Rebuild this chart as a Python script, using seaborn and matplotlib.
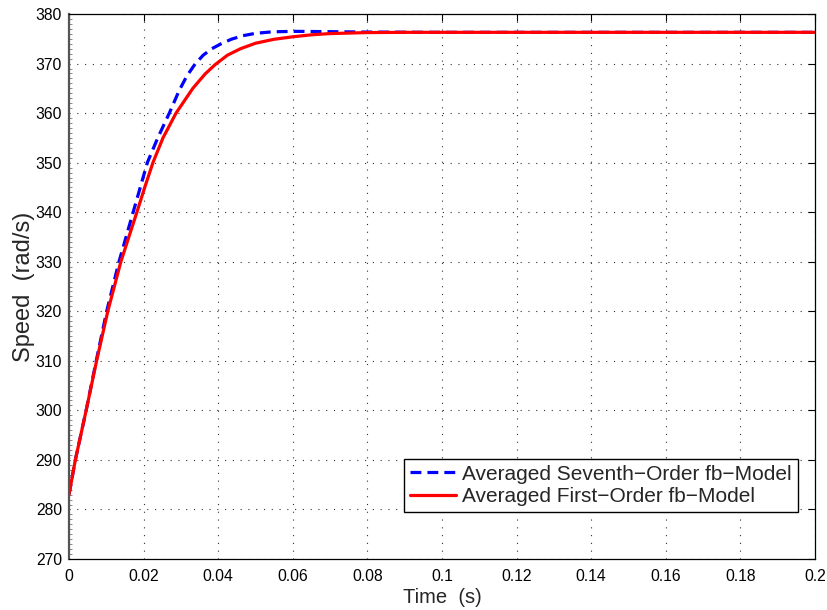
import numpy as np
import pandas as pd
import matplotlib
matplotlib.use("Agg")
import matplotlib.pyplot as plt
from matplotlib.ticker import MultipleLocator, FixedLocator
import seaborn as sns

# Speed response of the two averaged fb-models
time_7th = [0.0, 0.0017, 0.0046, 0.0073, 0.0101, 0.0134, 0.0172, 0.0210, 0.0238,
            0.0269, 0.0295, 0.0316, 0.0338, 0.0360, 0.0383, 0.0408, 0.0435, 0.0465,
            0.0500, 0.0545, 0.0600, 0.0680, 0.0800, 0.1000, 0.1500, 0.2000]
speed_7th = [283.0, 290.0, 300.0, 310.0, 320.0, 330.0, 340.0, 350.0, 355.0,
             360.0, 364.5, 367.5, 369.9, 371.7, 373.0, 374.0, 374.9, 375.6,
             376.1, 376.4, 376.5, 376.45, 376.35, 376.3, 376.3, 376.3]

time_1st = [0.0, 0.0017, 0.0046, 0.0074, 0.0104, 0.0139, 0.0182, 0.0203, 0.0225,
            0.0252, 0.0287, 0.0332, 0.0365, 0.0392, 0.0425, 0.0460, 0.0500, 0.0550,
            0.0600, 0.0650, 0.0700, 0.0800, 0.0900, 0.1000, 0.1500, 0.2000]
speed_1st = [283.0, 290.0, 300.0, 310.0, 320.0, 330.0, 340.0, 345.0, 350.0,
             355.0, 360.0, 365.0, 367.9, 369.8, 371.7, 373.0, 374.1, 374.9,
             375.4, 375.8, 376.05, 376.25, 376.3, 376.3, 376.3, 376.3]

label_7th = "Averaged Seventh\u2212Order fb\u2212Model"
label_1st = "Averaged First\u2212Order fb\u2212Model"

x_ticks = [0, 0.02, 0.04, 0.06, 0.08, 0.1, 0.12, 0.14, 0.16, 0.18, 0.2]
x_tick_labels = ["0", "0.02", "0.04", "0.06", "0.08", "0.1", "0.12", "0.14", "0.16", "0.18", "0.2"]
y_ticks = list(range(270, 381, 10))

df = pd.concat([
    pd.DataFrame({"t": time_7th, "speed": speed_7th, "model": label_7th}),
    pd.DataFrame({"t": time_1st, "speed": speed_1st, "model": label_1st}),
], ignore_index=True)

sns.set_style("white")
plt.rcParams["font.family"] = ["Liberation Sans", "DejaVu Sans"]

fig = plt.figure(figsize=(8.27, 6.10), dpi=100)
ax = fig.add_axes([69 / 827, 1 - 559 / 610, (815 - 69) / 827, (559 - 14) / 610])

sns.lineplot(data=df, x="t", y="speed", hue="model", style="model",
             palette={label_7th: "#0000ff", label_1st: "#ff0000"},
             dashes={label_7th: (3.4, 1.9), label_1st: ""},
             linewidth=2.3, ax=ax, sort=False, estimator=None)

ax.set_xlim(0, 0.2)
ax.set_ylim(270, 380)
ax.xaxis.set_major_locator(FixedLocator(x_ticks))
ax.set_xticklabels(x_tick_labels)
ax.set_yticks(y_ticks)
ax.yaxis.set_minor_locator(MultipleLocator(1))

ax.grid(True, which="major", color="#303030", linestyle=(0, (1, 6)), linewidth=0.8)
ax.set_axisbelow(True)

for side in ["left", "right", "top", "bottom"]:
    ax.spines[side].set_visible(True)
    ax.spines[side].set_color("black")
    ax.spines[side].set_linewidth(0.9)
ax.spines["left"].set_color("#555555")
ax.spines["left"].set_linewidth(1.6)

ax.tick_params(axis="both", which="major", direction="in", length=5, width=0.8,
               labelsize=11.3, colors="black", top=True, right=True, pad=5)
ax.tick_params(axis="x", which="major", pad=7)
ax.tick_params(axis="y", which="minor", direction="in", length=2, width=0.6,
               color="#777777", left=True, right=False)

ax.set_xlabel("Time  (s)", fontsize=14.5, labelpad=3)
ax.set_ylabel("Speed  (rad/s)", fontsize=17, labelpad=0)

leg = ax.legend(loc="lower right", bbox_to_anchor=(0.977, 0.086), fontsize=15,
                frameon=True, fancybox=False, framealpha=1, edgecolor="black",
                handlelength=2.2, handletextpad=0.3, borderpad=0.3,
                labelspacing=0.15, borderaxespad=0)
leg.get_frame().set_linewidth(1.0)

fig.savefig("out.png", dpi=100)
